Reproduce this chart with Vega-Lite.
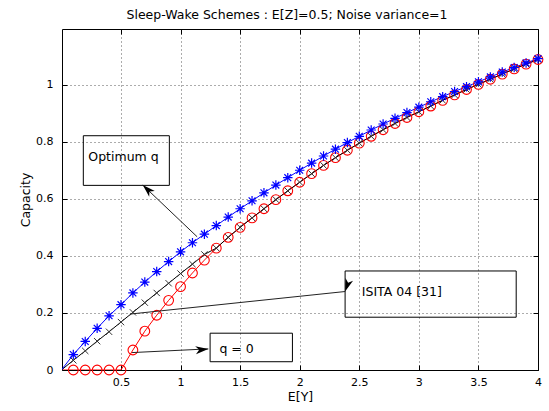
{
  "$schema": "https://vega.github.io/schema/vega-lite/v6.json",
  "width": 476,
  "height": 341,
  "autosize": {"type": "none"},
  "padding": {"left": 62, "top": 29, "right": 11, "bottom": 41},
  "background": "white",
  "config": {"view": {"stroke": "black", "strokeWidth": 1}, "font": "DejaVu Sans"},
  "title": {"text": "Sleep-Wake Schemes : E[Z]=0.5; Noise variance=1", "font": "DejaVu Sans", "fontSize": 12.5, "fontWeight": "normal", "color": "black", "anchor": "middle", "offset": 7, "dx": -13},
  "datasets": {
    "curves": [
      {"EY": 0.0, "Cap": 0.0, "series": "q0"}, {"EY": 0.1, "Cap": 0.0, "series": "q0"}, {"EY": 0.2, "Cap": 0.0, "series": "q0"}, {"EY": 0.3, "Cap": 0.0, "series": "q0"}, {"EY": 0.4, "Cap": 0.0, "series": "q0"}, {"EY": 0.5, "Cap": 0.0, "series": "q0"},
      {"EY": 0.6, "Cap": 0.070, "series": "q0"}, {"EY": 0.7, "Cap": 0.136, "series": "q0"}, {"EY": 0.8, "Cap": 0.192, "series": "q0"}, {"EY": 0.9, "Cap": 0.244, "series": "q0"}, {"EY": 1.0, "Cap": 0.292, "series": "q0"},
      {"EY": 1.1, "Cap": 0.340, "series": "q0"}, {"EY": 1.2, "Cap": 0.385, "series": "q0"}, {"EY": 1.3, "Cap": 0.427, "series": "q0"}, {"EY": 1.4, "Cap": 0.465, "series": "q0"}, {"EY": 1.5, "Cap": 0.500, "series": "q0"},
      {"EY": 1.6, "Cap": 0.533, "series": "q0"}, {"EY": 1.7, "Cap": 0.565, "series": "q0"}, {"EY": 1.8, "Cap": 0.597, "series": "q0"}, {"EY": 1.9, "Cap": 0.628, "series": "q0"}, {"EY": 2.0, "Cap": 0.658, "series": "q0"},
      {"EY": 2.1, "Cap": 0.688, "series": "q0"}, {"EY": 2.2, "Cap": 0.717, "series": "q0"}, {"EY": 2.3, "Cap": 0.744, "series": "q0"}, {"EY": 2.4, "Cap": 0.770, "series": "q0"}, {"EY": 2.5, "Cap": 0.795, "series": "q0"},
      {"EY": 2.6, "Cap": 0.819, "series": "q0"}, {"EY": 2.7, "Cap": 0.842, "series": "q0"}, {"EY": 2.8, "Cap": 0.864, "series": "q0"}, {"EY": 2.9, "Cap": 0.885, "series": "q0"}, {"EY": 3.0, "Cap": 0.905, "series": "q0"},
      {"EY": 3.1, "Cap": 0.925, "series": "q0"}, {"EY": 3.2, "Cap": 0.945, "series": "q0"}, {"EY": 3.3, "Cap": 0.964, "series": "q0"}, {"EY": 3.4, "Cap": 0.983, "series": "q0"}, {"EY": 3.5, "Cap": 1.001, "series": "q0"},
      {"EY": 3.6, "Cap": 1.019, "series": "q0"}, {"EY": 3.7, "Cap": 1.037, "series": "q0"}, {"EY": 3.8, "Cap": 1.055, "series": "q0"}, {"EY": 3.9, "Cap": 1.072, "series": "q0"}, {"EY": 4.0, "Cap": 1.088, "series": "q0"},

      {"EY": 0.0, "Cap": 0.0, "series": "isita"}, {"EY": 0.1, "Cap": 0.034, "series": "isita"}, {"EY": 0.2, "Cap": 0.067, "series": "isita"}, {"EY": 0.3, "Cap": 0.101, "series": "isita"}, {"EY": 0.4, "Cap": 0.134, "series": "isita"}, {"EY": 0.5, "Cap": 0.168, "series": "isita"},
      {"EY": 0.6, "Cap": 0.202, "series": "isita"}, {"EY": 0.7, "Cap": 0.236, "series": "isita"}, {"EY": 0.8, "Cap": 0.270, "series": "isita"}, {"EY": 0.9, "Cap": 0.304, "series": "isita"}, {"EY": 1.0, "Cap": 0.338, "series": "isita"},
      {"EY": 1.1, "Cap": 0.371, "series": "isita"}, {"EY": 1.2, "Cap": 0.405, "series": "isita"}, {"EY": 1.3, "Cap": 0.427, "series": "isita"}, {"EY": 1.4, "Cap": 0.465, "series": "isita"}, {"EY": 1.5, "Cap": 0.500, "series": "isita"},
      {"EY": 1.6, "Cap": 0.533, "series": "isita"}, {"EY": 1.7, "Cap": 0.565, "series": "isita"}, {"EY": 1.8, "Cap": 0.597, "series": "isita"}, {"EY": 1.9, "Cap": 0.628, "series": "isita"}, {"EY": 2.0, "Cap": 0.658, "series": "isita"},
      {"EY": 2.1, "Cap": 0.688, "series": "isita"}, {"EY": 2.2, "Cap": 0.717, "series": "isita"}, {"EY": 2.3, "Cap": 0.744, "series": "isita"}, {"EY": 2.4, "Cap": 0.770, "series": "isita"}, {"EY": 2.5, "Cap": 0.795, "series": "isita"},
      {"EY": 2.6, "Cap": 0.819, "series": "isita"}, {"EY": 2.7, "Cap": 0.842, "series": "isita"}, {"EY": 2.8, "Cap": 0.864, "series": "isita"}, {"EY": 2.9, "Cap": 0.885, "series": "isita"}, {"EY": 3.0, "Cap": 0.905, "series": "isita"},
      {"EY": 3.1, "Cap": 0.925, "series": "isita"}, {"EY": 3.2, "Cap": 0.945, "series": "isita"}, {"EY": 3.3, "Cap": 0.964, "series": "isita"}, {"EY": 3.4, "Cap": 0.983, "series": "isita"}, {"EY": 3.5, "Cap": 1.001, "series": "isita"},
      {"EY": 3.6, "Cap": 1.019, "series": "isita"}, {"EY": 3.7, "Cap": 1.037, "series": "isita"}, {"EY": 3.8, "Cap": 1.055, "series": "isita"}, {"EY": 3.9, "Cap": 1.072, "series": "isita"}, {"EY": 4.0, "Cap": 1.088, "series": "isita"},

      {"EY": 0.0, "Cap": 0.0, "series": "opt"}, {"EY": 0.1, "Cap": 0.054, "series": "opt"}, {"EY": 0.2, "Cap": 0.100, "series": "opt"}, {"EY": 0.3, "Cap": 0.146, "series": "opt"}, {"EY": 0.4, "Cap": 0.190, "series": "opt"}, {"EY": 0.5, "Cap": 0.229, "series": "opt"},
      {"EY": 0.6, "Cap": 0.270, "series": "opt"}, {"EY": 0.7, "Cap": 0.308, "series": "opt"}, {"EY": 0.8, "Cap": 0.345, "series": "opt"}, {"EY": 0.9, "Cap": 0.380, "series": "opt"}, {"EY": 1.0, "Cap": 0.414, "series": "opt"},
      {"EY": 1.1, "Cap": 0.446, "series": "opt"}, {"EY": 1.2, "Cap": 0.476, "series": "opt"}, {"EY": 1.3, "Cap": 0.506, "series": "opt"}, {"EY": 1.4, "Cap": 0.536, "series": "opt"}, {"EY": 1.5, "Cap": 0.565, "series": "opt"},
      {"EY": 1.6, "Cap": 0.593, "series": "opt"}, {"EY": 1.7, "Cap": 0.621, "series": "opt"}, {"EY": 1.8, "Cap": 0.648, "series": "opt"}, {"EY": 1.9, "Cap": 0.674, "series": "opt"}, {"EY": 2.0, "Cap": 0.700, "series": "opt"},
      {"EY": 2.1, "Cap": 0.725, "series": "opt"}, {"EY": 2.2, "Cap": 0.750, "series": "opt"}, {"EY": 2.3, "Cap": 0.774, "series": "opt"}, {"EY": 2.4, "Cap": 0.797, "series": "opt"}, {"EY": 2.5, "Cap": 0.819, "series": "opt"},
      {"EY": 2.6, "Cap": 0.841, "series": "opt"}, {"EY": 2.7, "Cap": 0.862, "series": "opt"}, {"EY": 2.8, "Cap": 0.882, "series": "opt"}, {"EY": 2.9, "Cap": 0.902, "series": "opt"}, {"EY": 3.0, "Cap": 0.921, "series": "opt"},
      {"EY": 3.1, "Cap": 0.940, "series": "opt"}, {"EY": 3.2, "Cap": 0.958, "series": "opt"}, {"EY": 3.3, "Cap": 0.976, "series": "opt"}, {"EY": 3.4, "Cap": 0.993, "series": "opt"}, {"EY": 3.5, "Cap": 1.010, "series": "opt"},
      {"EY": 3.6, "Cap": 1.027, "series": "opt"}, {"EY": 3.7, "Cap": 1.044, "series": "opt"}, {"EY": 3.8, "Cap": 1.060, "series": "opt"}, {"EY": 3.9, "Cap": 1.076, "series": "opt"}, {"EY": 4.0, "Cap": 1.091, "series": "opt"}
    ],
    "boxes": [
      {"name": "opt", "bx1": 0.184, "bx2": 0.906, "by1": 0.647, "by2": 0.821, "tx": 0.226, "ty": 0.745, "label": "Optimum q"},
      {"name": "isita", "bx1": 2.381, "bx2": 3.817, "by1": 0.185, "by2": 0.347, "tx": 2.521, "ty": 0.273, "label": "ISITA 04 [31]"},
      {"name": "q0", "bx1": 1.248, "bx2": 1.939, "by1": 0.029, "by2": 0.129, "tx": 1.326, "ty": 0.074, "label": "q = 0"}
    ],
    "arrows": [
      {"name": "opt", "ax": 1.139, "ay": 0.467, "bx": 0.683, "by": 0.648},
      {"name": "isita", "ax": 0.576, "ay": 0.196, "bx": 2.381, "by": 0.275},
      {"name": "q0", "ax": 0.593, "ay": 0.061, "bx": 1.233, "by": 0.074}
    ]
  },
  "resolve": {"axis": {"x": "independent", "y": "independent"}},
  "layer": [
    {
      "data": {"name": "curves"},
      "mark": {"type": "line", "strokeWidth": 1, "clip": true},
      "encoding": {
        "x": {"field": "EY", "type": "quantitative",
          "scale": {"domain": [0.005, 4], "nice": false, "zero": false},
          "axis": {"orient": "bottom", "values": [0.5, 1, 1.5, 2, 2.5, 3, 3.5, 4], "format": "~g", "title": "E[Y]",
            "titleFont": "DejaVu Sans", "titleFontSize": 12.5, "titleFontWeight": "normal", "titleColor": "black", "titlePadding": 3,
            "labelFont": "DejaVu Sans", "labelFontSize": 11, "labelColor": "black", "labelPadding": 11, "labelFlush": false, "labelOverlap": false,
            "tickSize": -5, "tickColor": "black", "domain": false,
            "grid": true, "gridColor": "black", "gridDash": [1, 3], "gridOpacity": 0.65}},
        "y": {"field": "Cap", "type": "quantitative",
          "scale": {"domain": [0, 1.195], "nice": false, "zero": false},
          "axis": {"orient": "left", "values": [0, 0.2, 0.4, 0.6, 0.8, 1], "format": "~g", "title": "Capacity",
            "titleFont": "DejaVu Sans", "titleFontSize": 12.5, "titleFontWeight": "normal", "titleColor": "black", "titlePadding": 3,
            "labelFont": "DejaVu Sans", "labelFontSize": 11, "labelColor": "black", "labelPadding": 14, "labelFlush": false, "labelOverlap": false,
            "tickSize": -5, "tickColor": "black", "domain": false,
            "grid": true, "gridColor": "black", "gridDash": [1, 3], "gridOpacity": 0.65}},
        "color": {"field": "series", "type": "nominal", "scale": {"domain": ["q0", "isita", "opt"], "range": ["#ff0000", "#000000", "#0000ff"]}, "legend": null},
        "detail": {"field": "series"}
      }
    },
    {
      "data": {"name": "curves"},
      "transform": [{"filter": "datum.EY > 0 && datum.series == 'q0'"}],
      "mark": {"type": "point", "filled": false, "strokeWidth": 1.1, "opacity": 1, "color": "#ff0000", "shape": "circle", "size": 95},
      "encoding": {
        "x": {"field": "EY", "type": "quantitative", "axis": null},
        "y": {"field": "Cap", "type": "quantitative", "axis": null}
      }
    },
    {
      "data": {"name": "curves"},
      "transform": [{"filter": "datum.EY > 0 && datum.series == 'isita'"}],
      "mark": {"type": "point", "filled": false, "strokeWidth": 1, "opacity": 1, "color": "#333333", "shape": "M-1,-1L1,1M-1,1L1,-1", "size": 40},
      "encoding": {
        "x": {"field": "EY", "type": "quantitative", "axis": null},
        "y": {"field": "Cap", "type": "quantitative", "axis": null}
      }
    },
    {
      "data": {"name": "curves"},
      "transform": [{"filter": "datum.EY > 0 && datum.series == 'opt'"}],
      "mark": {"type": "point", "filled": false, "strokeWidth": 1.2, "opacity": 1, "color": "#0000ff", "shape": "M-1,0L1,0M0,-1L0,1M-0.72,-0.72L0.72,0.72M-0.72,0.72L0.72,-0.72", "size": 90},
      "encoding": {
        "x": {"field": "EY", "type": "quantitative", "axis": null},
        "y": {"field": "Cap", "type": "quantitative", "axis": null}
      }
    },
    {
      "data": {"name": "boxes"},
      "mark": {"type": "rect", "fill": "white", "fillOpacity": 0, "stroke": "black", "strokeWidth": 1},
      "encoding": {
        "x": {"field": "bx1", "type": "quantitative",
          "axis": {"orient": "top", "values": [0.5, 1, 1.5, 2, 2.5, 3, 3.5, 4], "labels": false, "title": null, "tickSize": -5, "tickColor": "black", "domain": false, "grid": false}},
        "x2": {"field": "bx2"},
        "y": {"field": "by1", "type": "quantitative",
          "axis": {"orient": "right", "values": [0, 0.2, 0.4, 0.6, 0.8, 1], "labels": false, "title": null, "tickSize": -5, "tickColor": "black", "domain": false, "grid": false}},
        "y2": {"field": "by2"}
      }
    },
    {
      "data": {"name": "boxes"},
      "mark": {"type": "text", "align": "left", "baseline": "middle", "font": "DejaVu Sans", "fontSize": 12.5, "color": "black"},
      "encoding": {
        "x": {"field": "tx", "type": "quantitative", "axis": null},
        "y": {"field": "ty", "type": "quantitative", "axis": null},
        "text": {"field": "label"}
      }
    },
    {
      "data": {"name": "arrows"},
      "mark": {"type": "rule", "color": "#222222", "strokeWidth": 1},
      "encoding": {
        "x": {"field": "ax", "type": "quantitative", "axis": null},
        "y": {"field": "ay", "type": "quantitative", "axis": null},
        "x2": {"field": "bx"},
        "y2": {"field": "by"}
      }
    },
    {
      "data": {"name": "arrows"},
      "mark": {"type": "point", "filled": true, "color": "black", "opacity": 1, "shape": "M0,0L0.5,1.6L0,1.15L-0.5,1.6Z", "size": 256},
      "encoding": {
        "x": {"field": "bx", "type": "quantitative", "axis": null},
        "y": {"field": "by", "type": "quantitative", "axis": null},
        "angle": {"field": "name", "type": "nominal", "scale": {"domain": ["opt", "isita", "q0"], "range": [314, 84, 87.4]}, "legend": null}
      }
    }
  ]
}
